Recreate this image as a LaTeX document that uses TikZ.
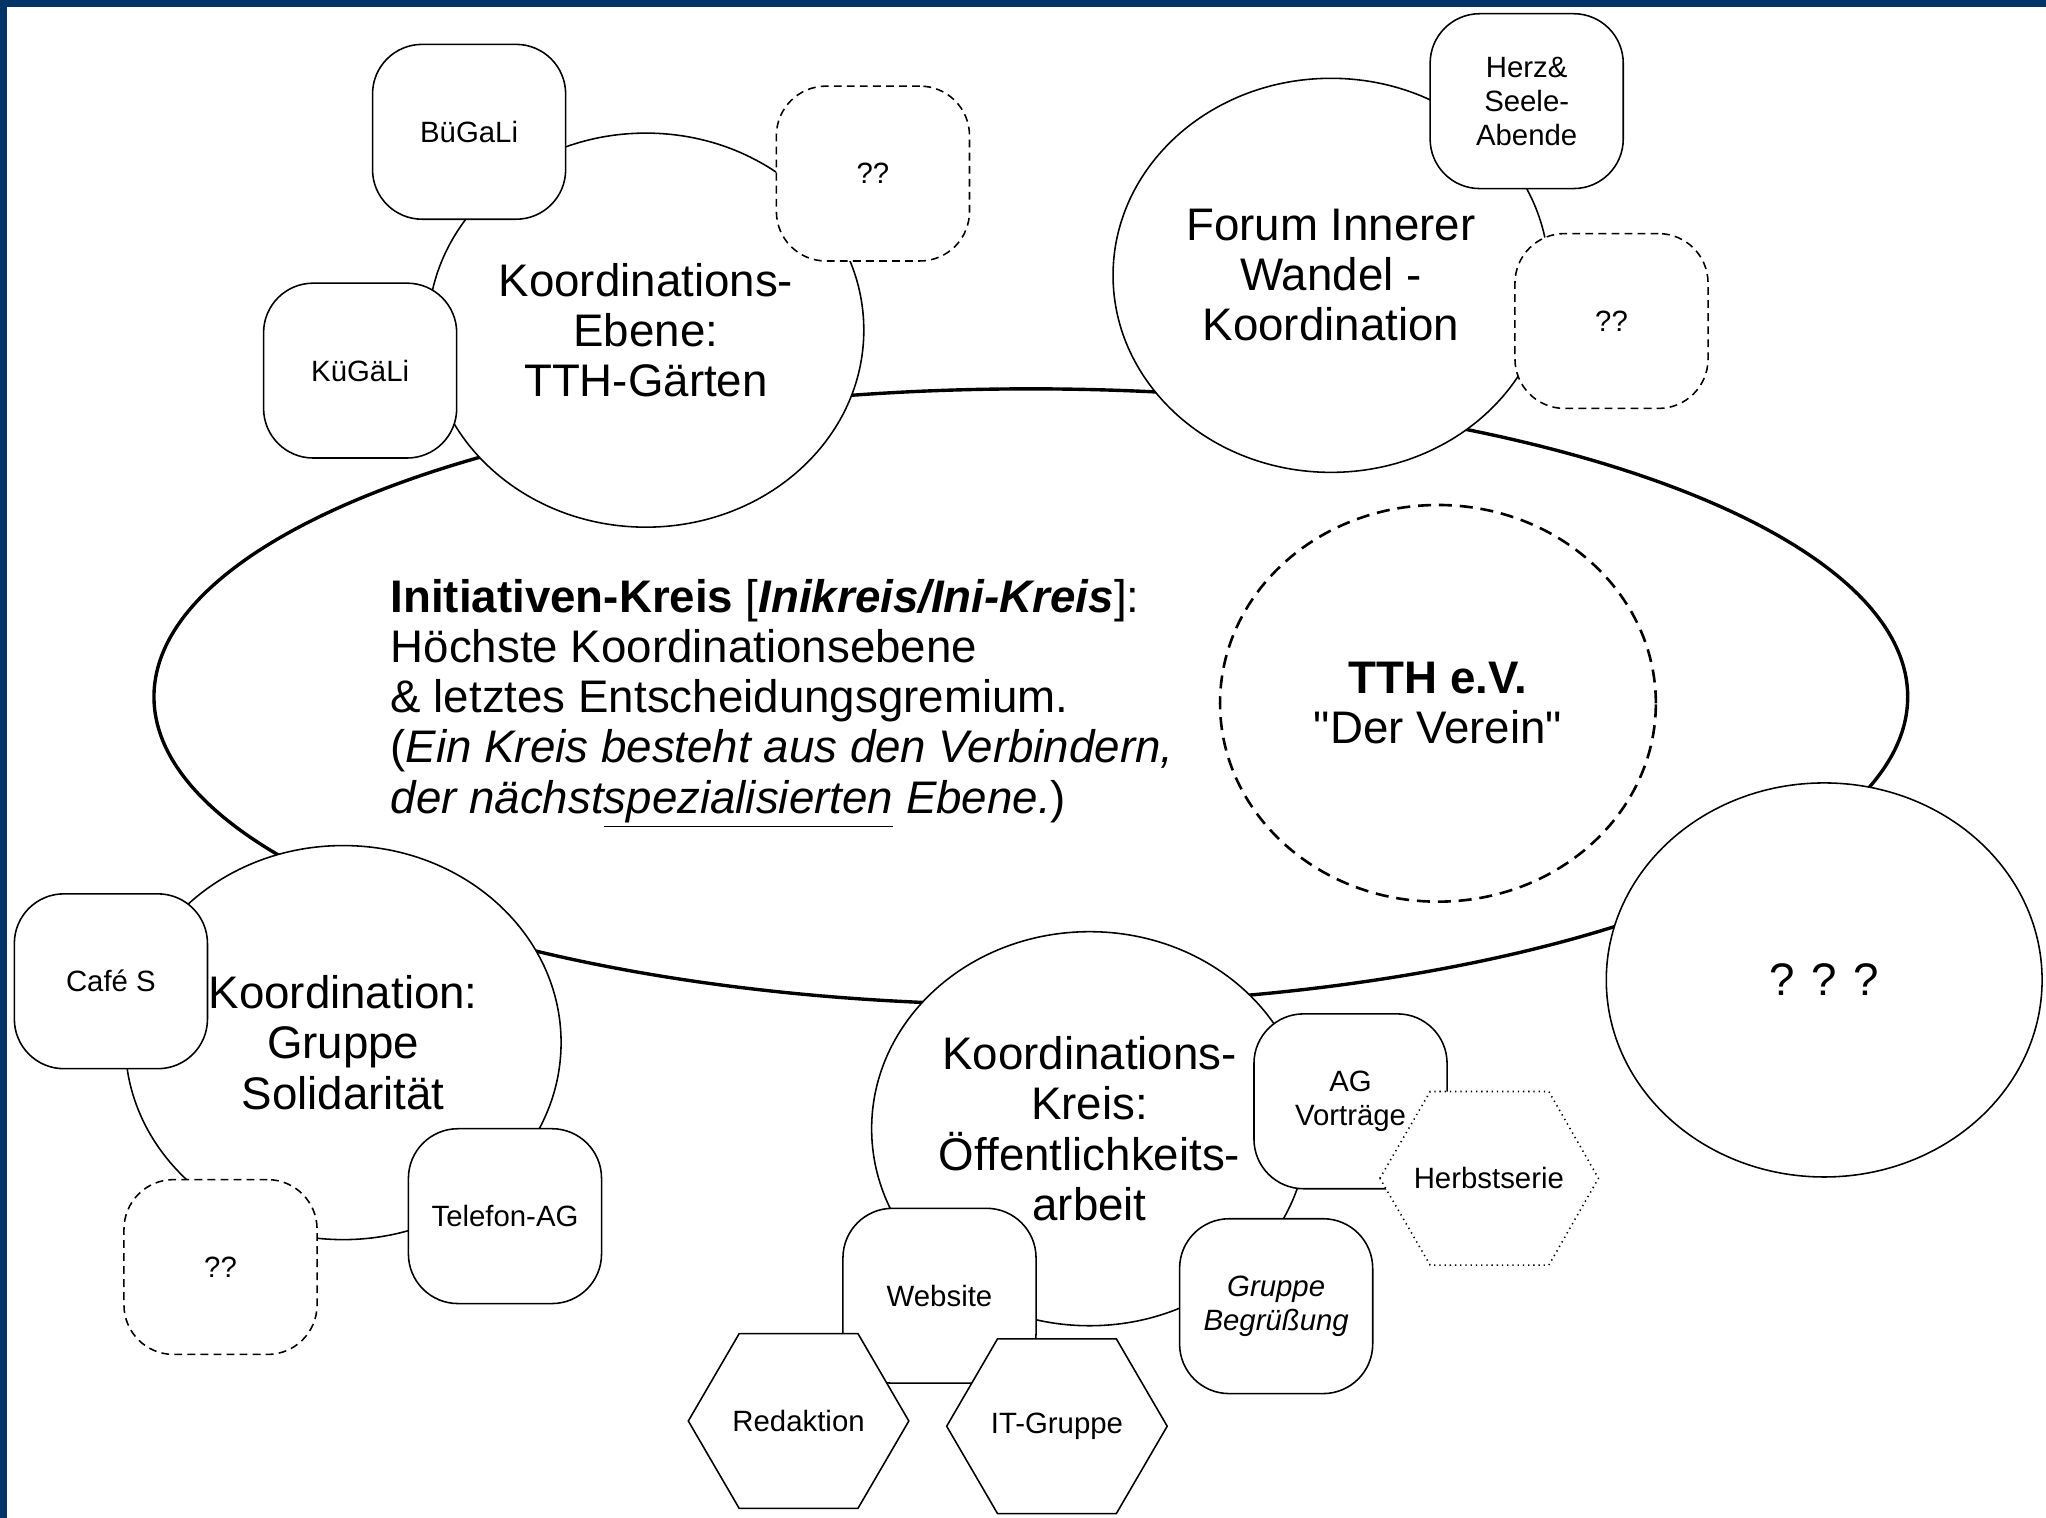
\documentclass[tikz,border=0pt]{standalone}
\usepackage{fontspec}
\setmainfont{Liberation Sans}[Ligatures=TeXOff]
\usetikzlibrary{shapes.geometric}
\definecolor{framebl}{RGB}{0,51,102}
\newcommand\bigfnt{\fontsize{17.5pt}{19.2pt}\selectfont}
\newcommand\smallfnt{\fontsize{11.25pt}{13pt}\selectfont}
\begin{document}
\begin{tikzpicture}[x=0.5pt,y=-0.5pt,
  circ/.style={ellipse, draw, line width=0.6pt, fill=white, inner sep=0pt, font=\bigfnt, align=center, minimum width=167pt, minimum height=151pt},
  rbox/.style={rectangle, rounded corners=19pt, draw, line width=0.6pt, fill=white, minimum width=74pt, minimum height=67pt, inner sep=0pt, font=\smallfnt, align=center},
  dbox/.style={rbox, dash pattern=on 3pt off 2pt},
  hexpath/.style={draw, line width=0.6pt, fill=white},
  hexdots/.style={hexpath, dash pattern=on 0.5pt off 1.5pt},
  lbl/.style={font=\smallfnt, align=center, inner sep=0pt},
]
\useasboundingbox (0,0) rectangle (1568,1163);
\fill[white] (0,0) rectangle (1568,1163);
\fill[framebl] (0,0) rectangle (1568,5);
\fill[framebl] (0,0) rectangle (5,1163);

% main circle
\node[ellipse, draw, line width=1.3pt, fill=white, minimum width=672pt, minimum height=236pt, inner sep=0pt] (ini) at (790,534) {};
\node[ellipse, draw, line width=1pt, dash pattern=on 5pt off 3pt, minimum width=167pt, minimum height=152pt, inner sep=0pt, align=center, font=\bigfnt] (tthev) at (1102,539) {\textbf{TTH e.V.}\\"Der Verein"};
\node[anchor=west, inner sep=0pt, align=left, font=\fontsize{17.5pt}{19.25pt}\selectfont] (initext) at (299,539)
  {\textbf{Initiativen-Kreis} [\textbf{\textit{Inikreis/Ini-Kreis}}]:\\
   Höchste Koordinationsebene\\
   \& letztes Entscheidungsgremium.\\
   (\textit{Ein Kreis besteht aus den Verbindern,}\\
   \textit{der nächst\underline{spezialisierten} Ebene.})};

% Gaerten
\node[circ] (garden) at (495,253) {Koordinations-\\Ebene:\\TTH-Gärten};
\node[rbox] (bugali) at (359.5,101) {BüGaLi};
\node[rbox] (kugali) at (276,284) {KüGäLi};
\node[dbox] (q1) at (669,133) {??};

% Forum
\node[circ] (forum) at (1020,211) {Forum Innerer\\Wandel -\\Koordination};
\node[rbox] (herz) at (1170,77.5) {Herz\&\\Seele-\\Abende};
\node[dbox] (q2) at (1235,246) {??};

% ???
\node[circ] (qqq) at (1398,751) {? ? ?};

% Solidaritaet
\node[circ] (soli) at (263,799) {Koordination:\\Gruppe\\Solidarität};
\node[rbox] (cafe) at (85,752) {Café S};
\node[dbox] (q3) at (169,971) {??};
\node[rbox] (telefon) at (387,932) {Telefon-AG};

% Oeffentlichkeitsarbeit
\node[circ] (oeff) at (835,865) {Koordinations-\\Kreis:\\Öffentlichkeits-\\arbeit};
\node[rbox] (agv) at (1035,844) {AG\\Vorträge};
\draw[hexdots, shift={(1141,903)}] (-83.5,0) -- (-45,-66.5) -- (46,-66.5) -- (84,0) -- (46,66.5) -- (-45,66.5) -- cycle;
\node[lbl] (herbst) at (1141,903) {Herbstserie};
\node[rbox] (begr) at (978,1001) {\textit{Gruppe}\\\textit{Begrüßung}};
\node[rbox] (website) at (720,993) {Website};
\draw[hexpath, shift={(612,1089)}] (-84.5,0) -- (-45.5,-67) -- (45.5,-67) -- (84.5,0) -- (45.5,67) -- (-45.5,67) -- cycle;
\node[lbl] (redaktion) at (612,1089) {Redaktion};
\draw[hexpath, shift={(810,1093)}] (-84.5,0) -- (-45.5,-67) -- (45.5,-67) -- (84.5,0) -- (45.5,67) -- (-45.5,67) -- cycle;
\node[lbl] (itg) at (810,1093) {IT-Gruppe};
\end{tikzpicture}
\end{document}
